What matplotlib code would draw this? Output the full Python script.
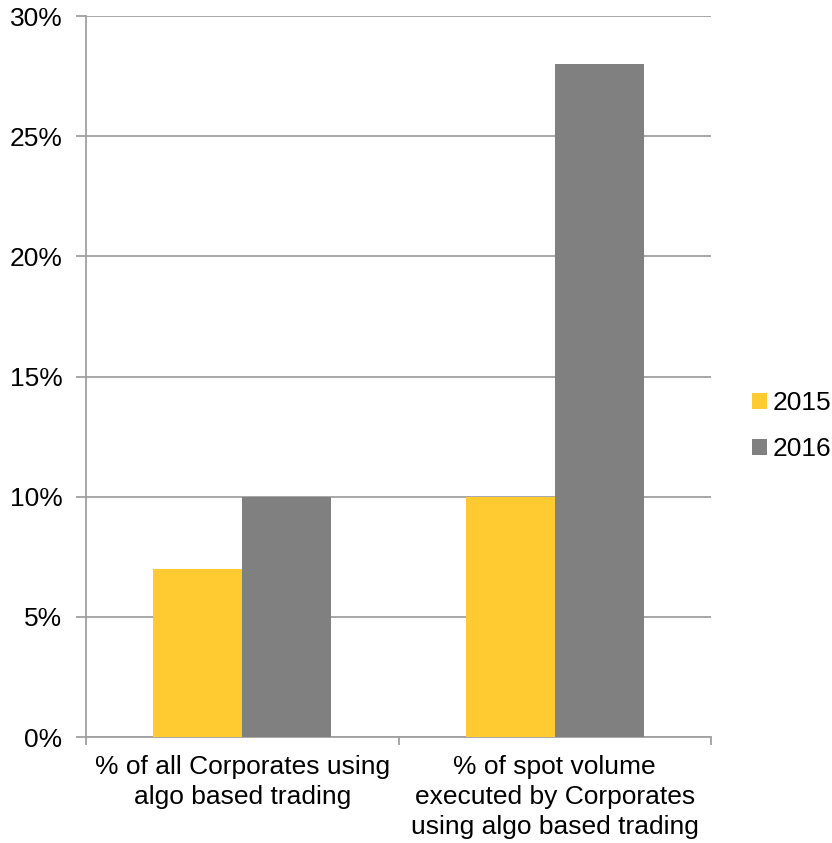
import matplotlib.pyplot as plt
import numpy as np

plt.rcParams['font.family'] = ['Liberation Sans', 'DejaVu Sans']

categories = ['% of all Corporates using\nalgo based trading',
              '% of spot volume\nexecuted by Corporates\nusing algo based trading']
series_names = ['2015', '2016']
values_2015 = [7, 10]
values_2016 = [10, 28]
y_ticks = [0, 5, 10, 15, 20, 25, 30]

colors = {'2015': '#FFCB30', '2016': '#808080'}
axis_color = '#A0A0A0'
font_size = 19

fig = plt.figure(figsize=(8.32, 8.43), dpi=100)
ax = fig.add_axes([0.1034, 0.1257, 0.7512, 0.8553])

x = np.arange(len(categories))
bar_width = 0.285

ax.bar(x - bar_width / 2, values_2015, width=bar_width, color=colors['2015'], label='2015', zorder=3)
ax.bar(x + bar_width / 2, values_2016, width=bar_width, color=colors['2016'], label='2016', zorder=3)

ax.set_xlim(-0.5, 1.5)
ax.set_ylim(0, 30)
ax.set_yticks(y_ticks)
ax.set_yticklabels([f'{t}%' for t in y_ticks])
ax.yaxis.grid(True, color=axis_color, linewidth=1.3, zorder=0)

# category labels between the tick marks at the boundaries
ax.set_xticks([-0.5, 0.5, 1.5])
ax.set_xticklabels([])
ax.set_xticks(x, minor=True)
ax.set_xticklabels(categories, minor=True, linespacing=1.32)
ax.tick_params(axis='x', which='minor', length=0, pad=13, labelsize=font_size)
ax.tick_params(axis='x', which='major', length=6, width=1.3, color=axis_color)
ax.tick_params(axis='y', length=7, width=1.3, color=axis_color, labelsize=font_size, pad=10)

for side in ['top', 'right']:
    ax.spines[side].set_visible(False)
for side in ['left', 'bottom']:
    ax.spines[side].set_color(axis_color)
    ax.spines[side].set_linewidth(1.3)

ax.legend(loc='center left', bbox_to_anchor=(1.066, 0.431), frameon=False, fontsize=font_size,
          handlelength=0.55, handleheight=0.55, handletextpad=0.23, labelspacing=0.83,
          borderaxespad=0, borderpad=0)

fig.savefig('out.png', dpi=100)
